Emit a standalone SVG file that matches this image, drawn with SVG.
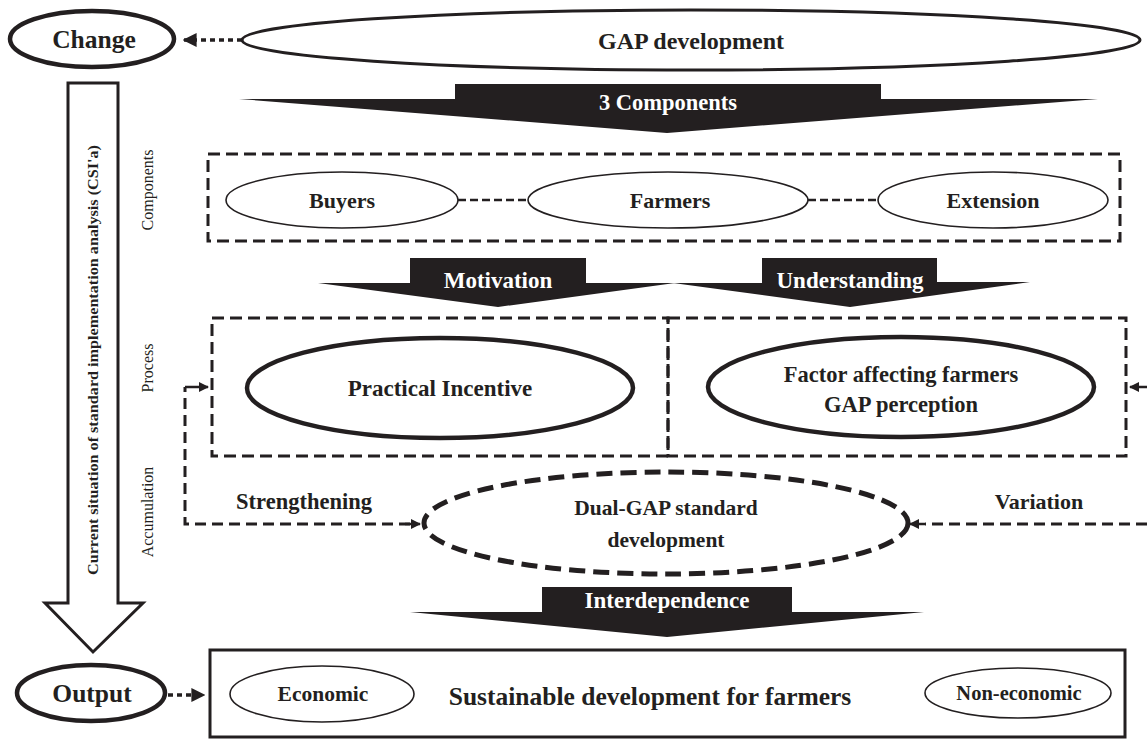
<svg xmlns="http://www.w3.org/2000/svg" width="1147" height="740" viewBox="0 0 1147 740">
  <defs>
    <style>
      .t { font-family: "Liberation Serif", "Times New Roman", serif; font-weight: bold; fill: #231f20; text-anchor: middle; }
      .w { font-family: "Liberation Serif", "Times New Roman", serif; font-weight: bold; fill: #ffffff; text-anchor: middle; }
      .side { font-family: "Liberation Serif", "Times New Roman", serif; fill: #231f20; text-anchor: middle; font-size: 16px; }
      .thick { fill: #fff; stroke: #231f20; stroke-width: 4.5; }
      .mid { fill: #fff; stroke: #231f20; stroke-width: 3; }
      .thin { fill: #fff; stroke: #231f20; stroke-width: 1.6; }
      .dbox { fill: none; stroke: #231f20; stroke-width: 3; stroke-dasharray: 12 6; }
      .dfeed { fill: none; stroke: #231f20; stroke-width: 3; stroke-dasharray: 11 6; }
      .dot { fill: none; stroke: #231f20; stroke-width: 3.5; stroke-dasharray: 5 4; }
      .solid { fill: none; stroke: #231f20; stroke-width: 2.5; }
      .band { fill: #231f20; }
    </style>
    <marker id="ah" viewBox="0 0 10 10" refX="9" refY="5" markerWidth="4" markerHeight="4" orient="auto" markerUnits="strokeWidth">
      <path d="M0,0 L10,5 L0,10 z" fill="#231f20"/>
    </marker>
  </defs>

  <!-- Side process arrow with its label -->
  <g id="csi-arrow">
    <path d="M68,83 L118,83 L118,603 L143,603 L93,652 L45,603 L68,603 Z" class="mid"/>
    <text class="t" font-size="14" transform="translate(98,360) rotate(-90)" textLength="430" lengthAdjust="spacingAndGlyphs">Current situation of standard implementation analysis (CSI'a)</text>
  </g>

  <g id="stage-labels">
    <text class="side" transform="translate(153,190) rotate(-90)">Components</text>
    <text class="side" transform="translate(153,368) rotate(-90)">Process</text>
    <text class="side" transform="translate(153,512) rotate(-90)">Accumulation</text>
  </g>

  <g id="change">
    <ellipse cx="92" cy="39" rx="82" ry="28" class="thick"/>
    <text class="t" x="94" y="48" font-size="25.5">Change</text>
  </g>

  <g id="gap-development">
    <ellipse cx="691" cy="40" rx="449" ry="30" class="mid"/>
    <text class="t" x="691" y="49" font-size="24">GAP development</text>
  </g>

  <g id="three-components">
    <polygon class="band" points="239,99 455,99 455,84 881,84 881,99 1098,99 667,133"/>
    <text class="w" x="668" y="110" font-size="22.5">3 Components</text>
  </g>

  <g id="components-box">
    <rect x="208" y="154" width="912" height="87" class="dbox"/>
  </g>

  <g id="buyers">
    <ellipse cx="342" cy="200" rx="116" ry="28" class="thin"/>
    <text class="t" x="342" y="208" font-size="22">Buyers</text>
  </g>
  <g id="farmers">
    <ellipse cx="668" cy="200" rx="140" ry="28" class="thin"/>
    <text class="t" x="670" y="208" font-size="22">Farmers</text>
  </g>
  <g id="extension">
    <ellipse cx="993" cy="200" rx="115" ry="28" class="thin"/>
    <text class="t" x="993" y="208" font-size="22">Extension</text>
  </g>

  <g id="motivation">
    <polygon class="band" points="318,283 410,283 410,258 586,258 586,283 675,283 498,307"/>
    <text class="w" x="498" y="288" font-size="23">Motivation</text>
  </g>
  <g id="understanding">
    <polygon class="band" points="673,283 762,283 762,258 937,258 937,282 1030,282 850,307"/>
    <text class="w" x="850" y="288" font-size="23">Understanding</text>
  </g>

  <g id="process-box-left">
    <rect x="212" y="318" width="456" height="138" class="dbox"/>
  </g>
  <g id="process-box-right">
    <rect x="668" y="318" width="458" height="138" class="dbox"/>
  </g>

  <g id="practical-incentive">
    <ellipse cx="440" cy="388" rx="193" ry="50" class="thick"/>
    <text class="t" x="440" y="396" font-size="23">Practical Incentive</text>
  </g>

  <g id="factor-perception">
    <ellipse cx="901" cy="387" rx="193" ry="50" class="thick"/>
    <text class="t" x="901" y="382" font-size="22.5">Factor affecting farmers</text>
    <text class="t" x="901" y="412" font-size="22.5">GAP perception</text>
  </g>

  <g id="dual-gap">
    <ellipse cx="666" cy="523" rx="242" ry="51" fill="#fff" stroke="#231f20" stroke-width="5" stroke-dasharray="16 8"/>
    <text class="t" x="666" y="515" font-size="21.5">Dual-GAP standard</text>
    <text class="t" x="666" y="547" font-size="21.5">development</text>
  </g>

  <g id="interdependence">
    <polygon class="band" points="410,612 542,612 542,587 792,587 792,612 924,612 667,637"/>
    <text class="w" x="667" y="608" font-size="23">Interdependence</text>
  </g>

  <g id="output">
    <ellipse cx="91" cy="693" rx="74" ry="28" class="thick"/>
    <text class="t" x="92" y="702" font-size="25.5">Output</text>
  </g>

  <g id="sustainable-development">
    <rect x="210" y="650" width="915" height="87" class="mid" fill="none"/>
    <text class="t" x="650" y="705" font-size="25.5">Sustainable development for farmers</text>
  </g>
  <g id="economic">
    <ellipse cx="322" cy="694" rx="92" ry="28" class="thin"/>
    <text class="t" x="323" y="701" font-size="21.5">Economic</text>
  </g>
  <g id="non-economic">
    <ellipse cx="1018" cy="693" rx="93" ry="25" class="thin"/>
    <text class="t" x="1019" y="700" font-size="20.5">Non-economic</text>
  </g>

  <g id="edge-labels">
    <text class="t" x="304" y="509" font-size="22.5">Strengthening</text>
    <text class="t" x="1039" y="509" font-size="22">Variation</text>
  </g>

  <g id="connectors">
    <!-- GAP development to Change -->
    <line x1="242" y1="40" x2="184" y2="40" class="dot" marker-end="url(#ah)"/>
    <!-- Output to sustainable development -->
    <line x1="168" y1="695" x2="204" y2="695" class="dot" marker-end="url(#ah)"/>
    <!-- links between components -->
    <line x1="458" y1="200" x2="529" y2="200" stroke="#231f20" stroke-width="2.5" stroke-dasharray="8 4"/>
    <line x1="808" y1="200" x2="879" y2="200" stroke="#231f20" stroke-width="2.5" stroke-dasharray="8 4"/>
    <!-- strengthening feedback loop -->
    <polyline points="410,524 185,524 185,387" class="dfeed"/>
    <path d="M405,524 L420,524" class="solid" marker-end="url(#ah)"/>
    <path d="M185,387 L208,387" class="solid" marker-end="url(#ah)"/>
    <!-- variation feedback -->
    <line x1="1147" y1="524" x2="925" y2="524" class="dfeed"/>
    <path d="M925,524 L910,524" class="solid" marker-end="url(#ah)"/>
    <path d="M1147,387 L1130,387" class="solid" marker-end="url(#ah)"/>
  </g>
</svg>
